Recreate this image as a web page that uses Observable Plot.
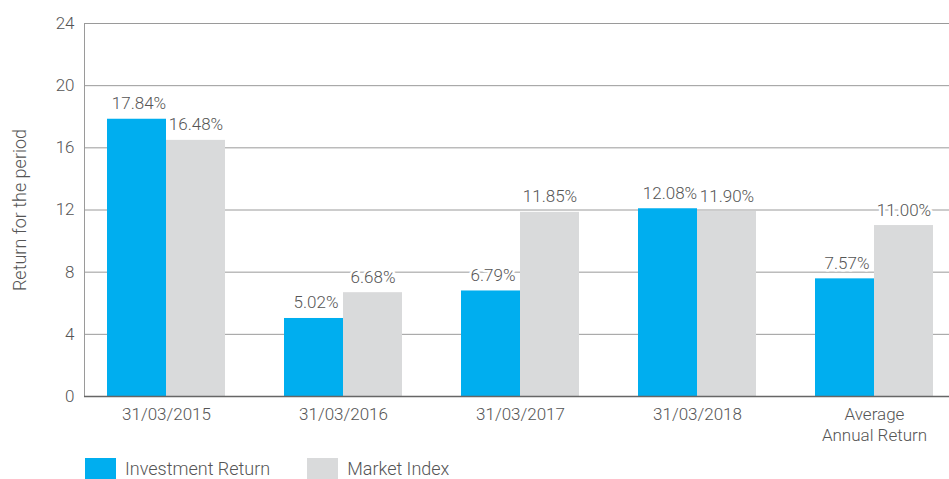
<!DOCTYPE html>
<html>
<head>
<meta charset="utf-8">
<script src="https://cdn.jsdelivr.net/npm/d3@7"></script>
<script src="https://cdn.jsdelivr.net/npm/@observablehq/plot@0.6"></script>
<style>
  body { margin: 0; background: white; font-family: Roboto, "Open Sans", sans-serif; overflow: hidden; }
  #chart svg { display: block; }
  .legend { display: flex; align-items: center; height: 22px; padding-left: 85px; margin-top: 9px; font-size: 18px; font-weight: 300; color: #555; }
  .legend .sw { width: 31px; height: 21px; margin-right: 9px; }
  .legend .item { display: flex; align-items: center; margin-right: 37px; }
</style>
</head>
<body>
<div id="chart"></div>
<div class="legend" id="legend"></div>
<script>
const categories = ["31/03/2015", "31/03/2016", "31/03/2017", "31/03/2018", "Average Annual Return"];
const categoryLabels = ["31/03/2015", "31/03/2016", "31/03/2017", "31/03/2018", "Average\nAnnual Return"];
const seriesNames = ["Investment Return", "Market Index"];
const investmentReturn = [17.84, 5.02, 6.79, 12.08, 7.57];
const marketIndex = [16.48, 6.68, 11.85, 11.90, 11.00];
const yTicks = [0, 4, 8, 12, 16, 20, 24];
const colors = ["#00AEEF", "#D9DADB"];

const inv = categories.map((c, i) => ({cat: c, v: investmentReturn[i]}));
const mkt = categories.map((c, i) => ({cat: c, v: marketIndex[i]}));
const labelOf = new Map(categories.map((c, i) => [c, categoryLabels[i]]));

const W = 949, H = 448;
const half = 59;

const plot = Plot.plot({
  width: W,
  height: H,
  marginLeft: 84,
  marginRight: 0,
  marginTop: 23,
  marginBottom: 52,
  style: {fontFamily: "Roboto, sans-serif", fontSize: "17px", color: "#555", fontWeight: 300, overflow: "hidden"},
  x: {domain: categories, range: [84, 955], paddingInner: 1/3, paddingOuter: 0.124, label: null},
  y: {domain: [0, 24], label: null},
  marks: [
    Plot.ruleY(yTicks.filter(d => d > 0), {stroke: "#9a9a9a", strokeWidth: 1}),
    Plot.frame({anchor: "left", stroke: "#9a9a9a"}),
    Plot.barY(inv, {x: "cat", y: "v", fill: colors[0], insetRight: half}),
    Plot.barY(mkt, {x: "cat", y: "v", fill: colors[1], insetLeft: half}),
    Plot.ruleY([0], {stroke: "#666", strokeWidth: 1.5}),
    Plot.text(inv, {x: "cat", y: "v", text: d => d.v.toFixed(2) + "%", dx: -half/2 + 2, dy: -10, lineAnchor: "bottom", fill: "#555", stroke: "white", strokeWidth: 5, fontSize: 17, fontWeight: 300}),
    Plot.text(mkt, {x: "cat", y: "v", text: d => d.v.toFixed(2) + "%", dx: half/2, dy: -10, lineAnchor: "bottom", fill: "#555", stroke: "white", strokeWidth: 5, fontSize: 17, fontWeight: 300}),
    Plot.axisY({ticks: yTicks, tickSize: 0, tickPadding: 10, fontSize: 17, label: null}),
    Plot.axisX({tickSize: 0, tickPadding: 8, fontSize: 17, lineHeight: 1.25, tickFormat: d => labelOf.get(d), label: null}),
    Plot.text(["Return for the period"], {frameAnchor: "left", textAnchor: "middle", dx: -64, rotate: -90, fontSize: 18, fill: "#555", fontWeight: 300})
  ]
});
document.getElementById("chart").appendChild(plot);

const legend = document.getElementById("legend");
seriesNames.forEach((name, i) => {
  const item = document.createElement("div");
  item.className = "item";
  const sw = document.createElement("div");
  sw.className = "sw";
  sw.style.background = colors[i];
  const t = document.createElement("span");
  t.textContent = name;
  item.appendChild(sw);
  item.appendChild(t);
  legend.appendChild(item);
});
</script>
</body>
</html>
